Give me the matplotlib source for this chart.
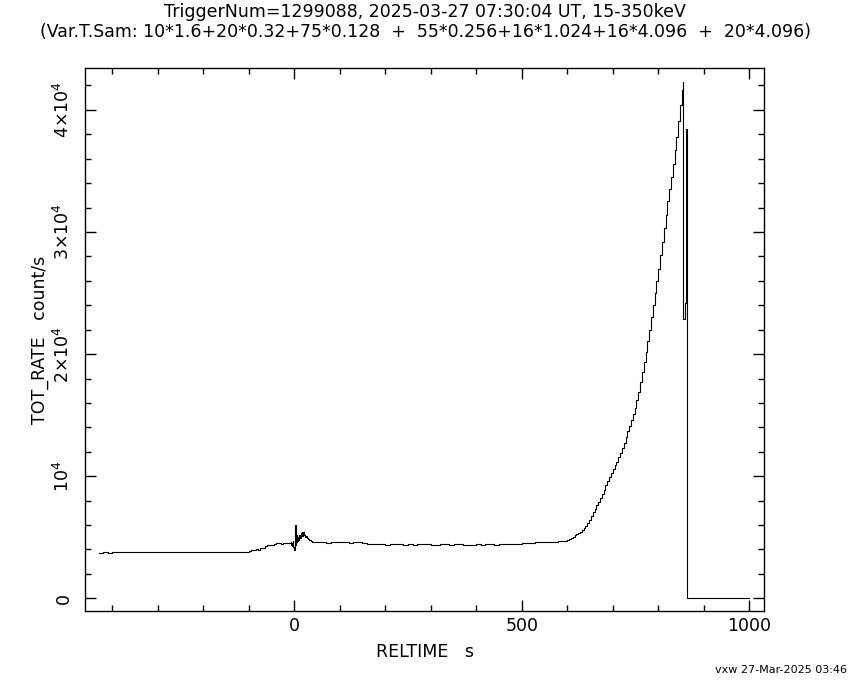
import numpy as np
import matplotlib
matplotlib.use("Agg")
import matplotlib.pyplot as plt
import matplotlib.ticker as mticker

# light curve, values in units of 1000 count/s, each segment has a start time and bin width
pre_start, pre_bin = -430, 10
pre_rate = [3.72, 3.75, 3.74, 3.80, 3.78, 3.77, 3.79, 3.76, 3.80, 3.78, 3.76,
            3.79, 3.78, 3.77, 3.75, 3.76, 3.78, 3.79, 3.77, 3.80, 3.78, 3.76,
            3.78, 3.80, 3.77, 3.79, 3.78, 3.76, 3.79, 3.78, 3.80, 3.77, 3.78]

lead_start, lead_bin = -100, 5
lead_rate = [3.85, 3.98, 3.92, 4.00, 3.95, 4.10, 4.15, 4.30, 4.35, 4.40,
             4.38, 4.45, 4.50, 4.52, 4.48, 4.55, 4.50, 4.55]

trig_start, trig_bin = -10, 1
trig_rate = [4.50, 4.55, 4.45, 4.60, 4.40, 4.50, 4.30, 4.70, 4.20, 4.05,
             3.95, 5.10, 6.00, 4.40, 5.30, 4.60, 5.20, 4.70, 5.00, 4.80]

post_start, post_bin = 10, 2
post_rate = [5.20, 4.90, 5.35, 5.45, 5.10, 5.40, 5.20, 5.00, 5.10, 4.90,
             4.85, 4.75, 4.80, 4.70, 4.70]

flat_start, flat_bin = 40, 10
flat_rate = [4.65, 4.60, 4.62, 4.55, 4.58, 4.60, 4.57, 4.60, 4.55, 4.58, 4.60,
             4.50, 4.45, 4.47, 4.42, 4.44, 4.40, 4.43, 4.45, 4.41, 4.38, 4.42,
             4.40, 4.44, 4.47, 4.42, 4.40, 4.38, 4.41, 4.43, 4.40, 4.42, 4.45,
             4.40, 4.37, 4.40, 4.42, 4.39, 4.41, 4.43, 4.40, 4.42, 4.44, 4.41,
             4.43, 4.45,
             4.50, 4.52, 4.55, 4.58, 4.60, 4.62, 4.60, 4.65, 4.68, 4.70]

rise_start, rise_bin = 600, 4
rise_rate = [4.80, 4.85, 4.95, 5.05, 5.15, 5.25, 5.35, 5.45, 5.60, 5.75,
             5.95, 6.20, 6.45, 6.75, 7.05, 7.35, 7.60, 7.90, 8.20, 8.55,
             8.90, 9.25, 9.60, 9.95, 10.3, 10.6, 10.9, 11.2, 11.55, 11.9,
             12.3, 12.75, 13.2, 13.7, 14.15, 14.6, 15.1, 15.6, 16.2, 16.9,
             17.7, 18.5, 19.35, 20.2, 21.1, 22.0, 23.0, 24.0, 25.0, 26.0,
             27.0, 28.1, 29.2, 30.3, 31.4, 32.5, 33.5, 34.5, 35.6, 36.7,
             37.8, 39.1, 40.4, 41.6]

tail_time = [854.0, 855.0, 859.5, 860.3, 861.1, 861.9, 862.7, 863.6]
tail_rate = [42.3, 22.9, 24.2, 38.4, 24.3, 38.4, 24.4, 38.4]
end_time = 1000

title1 = "TriggerNum=1299088, 2025-03-27 07:30:04 UT, 15-350keV"
title2 = ("(Var.T.Sam: 10*1.6+20*0.32+75*0.128  +  "
          "55*0.256+16*1.024+16*4.096  +  20*4.096)")
stamp = "vxw 27-Mar-2025 03:46"

ytick_vals = [0, 1e4, 2e4, 3e4, 4e4]
ytick_labels = ["0", r"$10^4$", r"$2{\times}10^4$", r"$3{\times}10^4$", r"$4{\times}10^4$"]


def build_curve():
    segs = [(pre_start, pre_bin, pre_rate), (lead_start, lead_bin, lead_rate),
            (trig_start, trig_bin, trig_rate), (post_start, post_bin, post_rate),
            (flat_start, flat_bin, flat_rate), (rise_start, rise_bin, rise_rate)]
    t, r = [], []
    for start, width, vals in segs:
        t.extend(start + width * np.arange(len(vals)))
        r.extend(vals)
    t.extend(tail_time)
    r.extend(tail_rate)
    # detector drops out after the last bin
    t.extend([tail_time[-1] + 0.4, end_time])
    r.extend([0.0, 0.0])
    return np.array(t, dtype=float), np.array(r) * 1000.0


t, rate = build_curve()

plt.rcParams.update({
    "font.family": "DejaVu Sans",
    "font.size": 12.5,
    "axes.linewidth": 1.0,
    "mathtext.fontset": "dejavusans",
})

fig = plt.figure(figsize=(8.5, 6.8), dpi=100)
ax = fig.add_axes([0.1004, 0.1015, 0.7988, 0.7985])

ax.step(t, rate, where="post", color="black", lw=0.8)

ax.set_xlim(-459, 1033)
ax.set_ylim(-1040, 43430)

ax.xaxis.set_major_locator(mticker.MultipleLocator(500))
ax.xaxis.set_minor_locator(mticker.MultipleLocator(100))
ax.yaxis.set_major_locator(mticker.FixedLocator(ytick_vals))
ax.yaxis.set_major_formatter(mticker.FixedFormatter(ytick_labels))
ax.yaxis.set_minor_locator(mticker.MultipleLocator(2000))

ax.tick_params(which="both", direction="in", top=True, right=True, width=1.0)
ax.tick_params(which="major", length=8)
ax.tick_params(which="minor", length=4.5)
ax.tick_params(axis="x", pad=4)
ax.tick_params(axis="y", labelrotation=90, pad=9)
for lab in ax.get_yticklabels():
    lab.set_va("center")

ax.set_xlabel("RELTIME   s", labelpad=6)
ax.set_ylabel("TOT_RATE   count/s", labelpad=3)

fig.text(0.5, 0.982, title1, ha="center", va="center", fontsize=12.5)
fig.text(0.5, 0.953, title2, ha="center", va="center", fontsize=12.5)
fig.text(0.997, 0.015, stamp, ha="right", va="center", fontsize=8)

fig.savefig("out.png", dpi=100, facecolor="white")
